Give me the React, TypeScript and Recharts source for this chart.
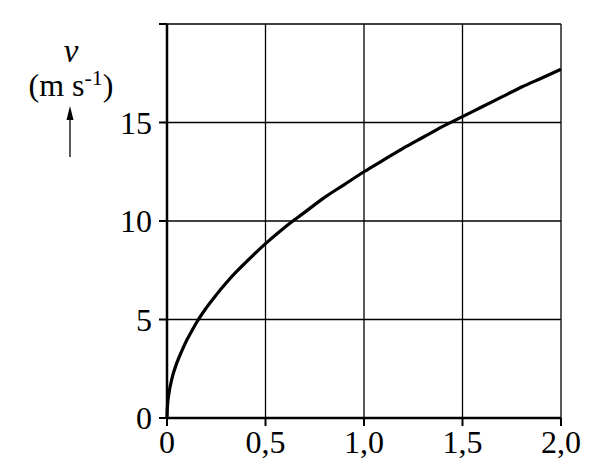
import { CartesianGrid, Line, LineChart, XAxis, YAxis } from 'recharts';

// time (s) and speed (m/s)
const times = [
  0, 0.002, 0.01, 0.025, 0.05, 0.075, 0.1, 0.125, 0.15, 0.2, 0.25, 0.3, 0.35, 0.4, 0.5,
  0.6, 0.7, 0.8, 0.9, 1.0, 1.1, 1.2, 1.3, 1.4, 1.5, 1.6, 1.7, 1.8, 1.9, 2.0,
];
const speeds = [
  0, 0.56, 1.25, 2.0, 2.8, 3.4, 3.95, 4.4, 4.85, 5.6, 6.25, 6.85, 7.4, 7.9, 8.85,
  9.7, 10.45, 11.2, 11.85, 12.5, 13.1, 13.7, 14.25, 14.8, 15.3, 15.8, 16.3, 16.8, 17.25, 17.7,
];

const xTicks = [0, 0.5, 1, 1.5, 2];
const yTicks = [0, 5, 10, 15, 20];
const yLabels = ['0', '5', '10', '15', ''];

const data = times.map((t, i) => ({ t, v: speeds[i] }));

const font = '"Liberation Serif", "DejaVu Serif", serif';

const fmtX = (value: number) => (value === 0 ? '0' : value.toFixed(1).replace('.', ','));
const fmtY = (value: number) => yLabels[yTicks.indexOf(value)] ?? '';

export default function App() {
  return (
    <div style={{ position: 'absolute', left: 0, top: 0, width: 607, height: 463, background: '#fff' }}>
      <LineChart
        width={607}
        height={463}
        data={data}
        margin={{ top: 24, right: 46, left: 107, bottom: 0 }}
      >
        <CartesianGrid stroke="#000" strokeWidth={1.3} />
        <XAxis
          dataKey="t"
          type="number"
          domain={[0, 2]}
          ticks={xTicks}
          tickFormatter={fmtX}
          height={45}
          axisLine={{ stroke: '#000', strokeWidth: 2.5 }}
          tickLine={{ stroke: '#000', strokeWidth: 2 }}
          tickSize={8}
          tickMargin={4}
          tick={{ fill: '#000', fontSize: 32, fontFamily: font }}
          interval={0}
        />
        <XAxis
          xAxisId="in"
          dataKey="t"
          type="number"
          domain={[0, 2]}
          ticks={xTicks}
          mirror
          tick={false}
          axisLine={false}
          tickLine={{ stroke: '#000', strokeWidth: 2 }}
          tickSize={8}
        />
        <YAxis
          type="number"
          domain={[0, 20]}
          ticks={yTicks}
          tickFormatter={fmtY}
          width={60}
          axisLine={{ stroke: '#000', strokeWidth: 2.5 }}
          tickLine={{ stroke: '#000', strokeWidth: 2 }}
          tickSize={8}
          tickMargin={7}
          tick={{ fill: '#000', fontSize: 32, fontFamily: font }}
          interval={0}
        />
        <YAxis
          yAxisId="in"
          type="number"
          domain={[0, 20]}
          ticks={yTicks}
          mirror
          tick={false}
          axisLine={false}
          tickLine={{ stroke: '#000', strokeWidth: 2 }}
          tickSize={8}
        />
        <Line
          dataKey="v"
          type="monotone"
          stroke="#000"
          strokeWidth={3.2}
          dot={false}
          isAnimationActive={false}
        />
      </LineChart>
      <svg
        width={200}
        height={200}
        style={{ position: 'absolute', left: 0, top: 0 }}
        fontFamily={font}
      >
        <text x={71} y={62} textAnchor="middle" fontSize={33} fontStyle="italic">
          v
        </text>
        <text x={71} y={96} textAnchor="middle" fontSize={32}>
          (m s<tspan dy={-11} fontSize={22}>-1</tspan>
          <tspan dy={11}>)</tspan>
        </text>
        <line x1={70} y1={157} x2={70} y2={114} stroke="#000" strokeWidth={1.3} />
        <polygon points="70,106 66.5,120 73.5,120" fill="#000" />
      </svg>
    </div>
  );
}
